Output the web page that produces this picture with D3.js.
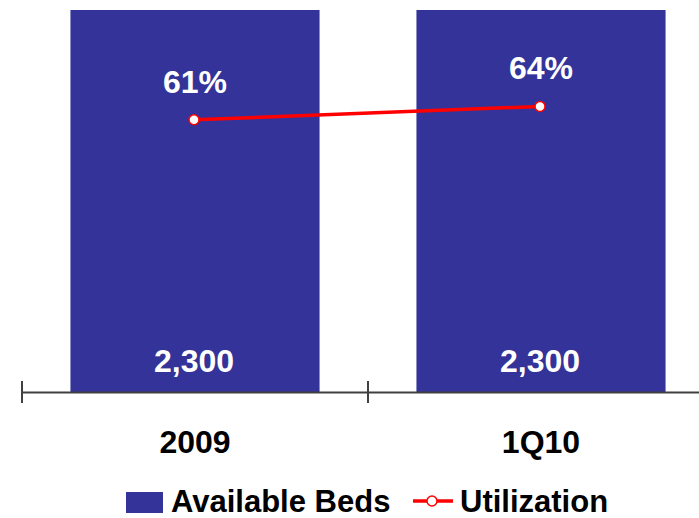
<!DOCTYPE html>
<html>
<head>
<meta charset="utf-8">
<script src="https://cdn.jsdelivr.net/npm/d3@7"></script>
<style>
  html, body { margin: 0; padding: 0; background: #fff; }
  svg { display: block; font-family: "Liberation Sans", Arial, Helvetica, sans-serif; font-weight: bold; }
</style>
</head>
<body>
<svg id="chart" width="699" height="518"></svg>
<script>
// Bed capacity and utilization by period
const categories = ["2009", "1Q10"];
const availableBeds = [2300, 2300];
const utilization = [0.61, 0.64];
const legendLabels = ["Available Beds", "Utilization"];

const BAR_COLOR = "#333399";
const LINE_COLOR = "#ff0000";

const svg = d3.select("#chart");
const baseY = 392, topY = 10;

const x = d3.scaleBand().domain(categories).range([22, 714]).paddingInner(0).paddingOuter(0);
const barW = x.bandwidth() * 0.72;
const yBeds = d3.scaleLinear().domain([0, 2300]).range([baseY, topY]);
const yUtil = d3.scaleLinear().domain([0, 0.856]).range([baseY, topY]);
const cx = d => x(d) + x.bandwidth() / 2;

// bars
svg.append("g").selectAll("rect").data(categories).join("rect")
  .attr("x", d => cx(d) - barW / 2)
  .attr("y", (d, i) => yBeds(availableBeds[i]))
  .attr("width", barW)
  .attr("height", (d, i) => baseY - yBeds(availableBeds[i]))
  .attr("fill", BAR_COLOR);

// bar value labels
const fmtBeds = d3.format(",");
svg.append("g").selectAll("text").data(categories).join("text")
  .attr("x", d => cx(d) - 1)
  .attr("y", 372)
  .attr("text-anchor", "middle")
  .attr("fill", "#fff")
  .attr("font-size", 32)
  .text((d, i) => fmtBeds(availableBeds[i]));

// category axis
const axis = svg.append("g").attr("transform", `translate(0,${baseY})`)
  .call(d3.axisBottom(x).tickSize(0).tickFormat(""));
axis.select(".domain").attr("stroke", "#404040").attr("stroke-width", 2);
axis.selectAll(".tick").remove();
svg.append("g").selectAll("line").data(categories).join("line")
  .attr("x1", d => x(d)).attr("x2", d => x(d))
  .attr("y1", 381).attr("y2", 403)
  .attr("stroke", "#404040").attr("stroke-width", 2);

svg.append("g").selectAll("text").data(categories).join("text")
  .attr("x", d => cx(d))
  .attr("y", 453)
  .attr("text-anchor", "middle")
  .attr("fill", "#000")
  .attr("font-size", 32)
  .text(d => d);

// utilization line
const line = d3.line().x((d, i) => cx(categories[i]) - 1).y(d => yUtil(d));
svg.append("path").datum(utilization)
  .attr("d", line)
  .attr("fill", "none")
  .attr("stroke", LINE_COLOR)
  .attr("stroke-width", 3.5);
svg.append("g").selectAll("circle").data(utilization).join("circle")
  .attr("cx", (d, i) => cx(categories[i]) - 1)
  .attr("cy", d => yUtil(d))
  .attr("r", 5)
  .attr("fill", "#fff")
  .attr("stroke", LINE_COLOR)
  .attr("stroke-width", 1.5);

const fmtPct = d3.format(".0%");
svg.append("g").selectAll("text").data(utilization).join("text")
  .attr("x", (d, i) => cx(categories[i]))
  .attr("y", d => yUtil(d) - 27)
  .attr("text-anchor", "middle")
  .attr("fill", "#fff")
  .attr("font-size", 32)
  .text(d => fmtPct(d));

// legend
const lg = svg.append("g");
lg.append("rect").attr("x", 126).attr("y", 492).attr("width", 37).attr("height", 21).attr("fill", BAR_COLOR);
lg.append("text").attr("x", 171).attr("y", 511.5).attr("font-size", 31).attr("fill", "#000").text(legendLabels[0]);
lg.append("line").attr("x1", 413).attr("x2", 453).attr("y1", 501).attr("y2", 501)
  .attr("stroke", LINE_COLOR).attr("stroke-width", 3.5);
lg.append("circle").attr("cx", 432).attr("cy", 501).attr("r", 5)
  .attr("fill", "#fff").attr("stroke", LINE_COLOR).attr("stroke-width", 1.5);
lg.append("text").attr("x", 460).attr("y", 511.5).attr("font-size", 31).attr("fill", "#000").text(legendLabels[1]);
</script>
</body>
</html>
